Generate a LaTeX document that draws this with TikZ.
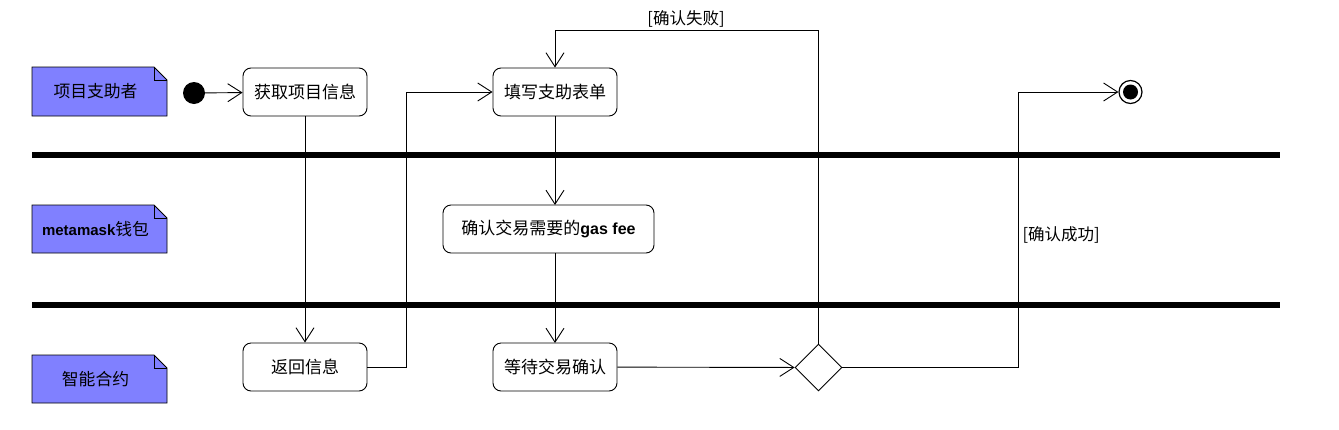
\documentclass[tikz,border=0pt]{standalone}
\usepackage{fontspec}
\setmainfont{Liberation Sans}
\newfontfamily\cjk{Noto Sans CJK SC}[Scale=1]
\usetikzlibrary{arrows.meta,shapes.geometric}
\tikzset{
  act/.style={draw,rounded corners=8pt,line width=0.9pt,minimum height=48pt,minimum width=124pt,inner sep=0pt,font=\cjk\fontsize{17}{19}\selectfont},
  flow/.style={line width=0.9pt,-{Straight Barb[length=14pt,width=18pt,line width=0.9pt]}},
  lanebar/.style={line width=6pt},
  lanetxt/.style={font=\cjk\fontsize{16.8}{19}\selectfont},
  guard/.style={font=\cjk\fontsize{16.5}{19}\selectfont},
}
\newcommand{\lanenote}[5]{%
  \fill[fill={rgb,255:red,128;green,128;blue,255}] (#1,#2) -- (#3-13,#2) -- (#3,#2+13) -- (#3,#4) -- (#1,#4) -- cycle;
  \draw[line width=0.9pt] (#1,#2) -- (#3-13,#2) -- (#3,#2+13) -- (#3,#4) -- (#1,#4) -- cycle;
  \draw[line width=0.6pt] (#3-13,#2) -- (#3-13,#2+13) -- (#3,#2+13);
  \node[lanetxt] (#5) at ({(#1+#3)/2-4},{(#2+#4)/2}) {\csname lanetext#5\endcsname};
}
\begin{document}
\begin{tikzpicture}[x=1pt,y=-1pt]
\useasboundingbox (0,0) rectangle (1339,429);
% lane separators
\draw[lanebar] (32,155) -- (1280,155);
\draw[lanebar] (32,305) -- (1280,305);
% lane notes
\expandafter\def\csname lanetextl1\endcsname{项目支助者}
\expandafter\def\csname lanetextl2\endcsname{{\fontspec{Liberation Sans}\bfseries\fontsize{15}{18}\selectfont metamask}钱包}
\expandafter\def\csname lanetextl3\endcsname{智能合约}
\lanenote{32}{67}{167}{116}{l1}
\lanenote{32}{205}{167}{253}{l2}
\lanenote{32}{355}{167}{403}{l3}
% nodes
\node[circle,fill=black,minimum size=22pt,inner sep=0pt] (start) at (194,93) {};
\node[act] (get) at (305,92) {获取项目信息};
\node[act] (fill) at (555,92) {填写支助表单};
\node[act,minimum width=211pt] (gas) at (548.5,229) {确认交易需要的{\fontspec{Liberation Sans}\bfseries\fontsize{16}{18}\selectfont gas fee}};
\node[act] (ret) at (305,367) {返回信息};
\node[act] (wait) at (555,367) {等待交易确认};
\node[diamond,draw,line width=0.9pt,minimum width=47pt,minimum height=47pt,inner sep=0pt] (dec) at (818.5,367.5) {};
\node[circle,draw,line width=1.2pt,minimum size=23pt,inner sep=0pt] (end) at (1130.5,92) {};
\fill (end.center) circle (7.5pt);
% connectors
\draw[flow] (start) -- (get);
\draw[flow] (get) -- (ret);
\draw[flow] (ret.east) -- (406,367) -- (406,92) -- (fill.west);
\draw[flow] (fill) -- (555,205);
\draw[flow] (555,253) -- (555,343);
\draw[flow] (wait) -- (dec);
\draw[flow] (dec.north) -- (818.5,30) -- (555,30) -- (fill.north);
\draw[flow] (dec.east) -- (1018,367.5) -- (1018,92) -- (end.west);
% guards
\node[guard] (fail) at (686,19) {[确认失败]};
\node[guard,anchor=west] (ok) at (1019,235) {[确认成功]};
\end{tikzpicture}
\end{document}
